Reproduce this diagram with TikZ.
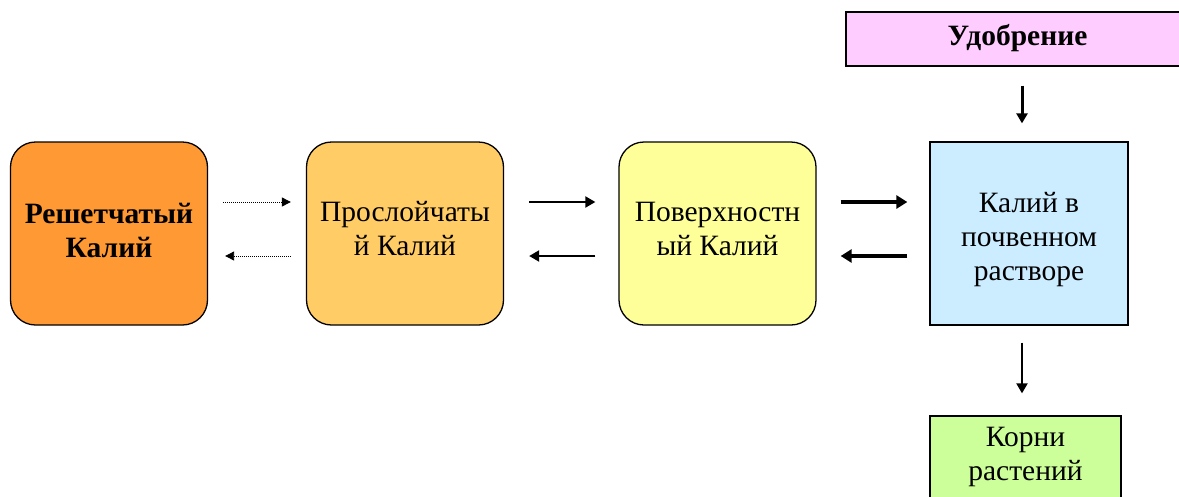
\documentclass[tikz,border=0pt]{standalone}
\usepackage{fontspec}
\setmainfont{Liberation Serif}
\usetikzlibrary{arrows.meta}
\definecolor{lattice}{HTML}{FF9933}
\definecolor{interlayer}{HTML}{FFCC66}
\definecolor{surface}{HTML}{FFFF99}
\definecolor{solution}{HTML}{CCECFF}
\definecolor{fert}{HTML}{FFCCFF}
\definecolor{roots}{HTML}{CCFF99}
\tikzset{
  pool/.style={draw=black, line width=1.3pt, rounded corners=25pt, minimum width=197pt,
    minimum height=183pt, inner sep=0pt},
  plainbox/.style={draw=black, line width=1.3pt, inner sep=0pt},
  lbl/.style={align=center, inner sep=0pt, font=\fontsize{29.5}{34}\selectfont},
  blbl/.style={lbl, font=\fontsize{29.5}{34}\selectfont\bfseries},
  tipS/.style={-{Triangle[length=9pt,width=9pt]}},
  tipM/.style={-{Triangle[length=10pt,width=11pt]}},
  tipL/.style={-{Triangle[length=11pt,width=13pt]}},
}
\begin{document}
\begin{tikzpicture}[x=1pt,y=-1pt]
\useasboundingbox (0,0) rectangle (1179,496);

% potassium pools
\node[pool, fill=lattice] (b1) at (109,233.5) {};
\node[pool, fill=interlayer] (b2) at (405,233.5) {};
\node[pool, fill=surface] (b3) at (717.5,233.5) {};
\node[plainbox, fill=solution, minimum width=198pt, minimum height=183pt] (b4) at (1029,233.5) {};

\node[blbl] (t1) at ([yshift=3.5pt]b1.center) {Решетчатый\\Калий};
\node[lbl] (t2) at ([yshift=4.5pt]b2.center) {Прослойчаты\\й Калий};
\node[lbl] (t3) at ([yshift=4.5pt]b3.center) {Поверхностн\\ый Калий};
\node[lbl] (t4) at ([yshift=-6.5pt]b4.center) {Калий в\\почвенном\\растворе};

% fertiliser input and plant uptake
\node[plainbox, fill=fert, minimum width=343pt, minimum height=54pt] (fert) at (1017.5,39) {};
\node[blbl] (t5) at ([yshift=1pt]fert.center) {Удобрение};
\node[plainbox, fill=roots, minimum width=191pt, minimum height=82pt] (root) at (1025.5,457) {};
\node[lbl] (t6) at (root.center) {Корни\\растений};

% exchange arrows
\draw[tipS, line width=0.9pt, dash pattern=on 1pt off 1pt, shorten <=15pt, shorten >=15pt]
  ([yshift=31.5pt]b1.east) -- ([yshift=31.5pt]b2.west);
\draw[tipS, line width=0.9pt, dash pattern=on 1pt off 1pt, shorten <=15pt, shorten >=17pt]
  ([yshift=-22.5pt]b2.west) -- ([yshift=-22.5pt]b1.east);

\draw[tipM, line width=2pt, shorten <=25pt, shorten >=23pt]
  ([yshift=31.5pt]b2.east) -- ([yshift=31.5pt]b3.west);
\draw[tipM, line width=2pt, shorten <=23pt, shorten >=25pt]
  ([yshift=-22.5pt]b3.west) -- ([yshift=-22.5pt]b2.east);

\draw[tipL, line width=4.5pt, shorten <=24pt, shorten >=22pt]
  ([yshift=31.5pt]b3.east) -- ([yshift=31.5pt]b4.west);
\draw[tipL, line width=4.5pt, shorten <=22pt, shorten >=24pt]
  ([yshift=-22.5pt]b4.west) -- ([yshift=-22.5pt]b3.east);

% vertical arrows
\coordinate (ax) at (1022,0);
\draw[tipM, line width=3pt, shorten <=19pt, shorten >=18pt]
  (ax |- fert.south) -- (ax |- b4.north);
\draw[tipM, line width=2pt, shorten <=17pt, shorten >=22pt]
  (ax |- b4.south) -- (ax |- root.north);
\end{tikzpicture}
\end{document}
